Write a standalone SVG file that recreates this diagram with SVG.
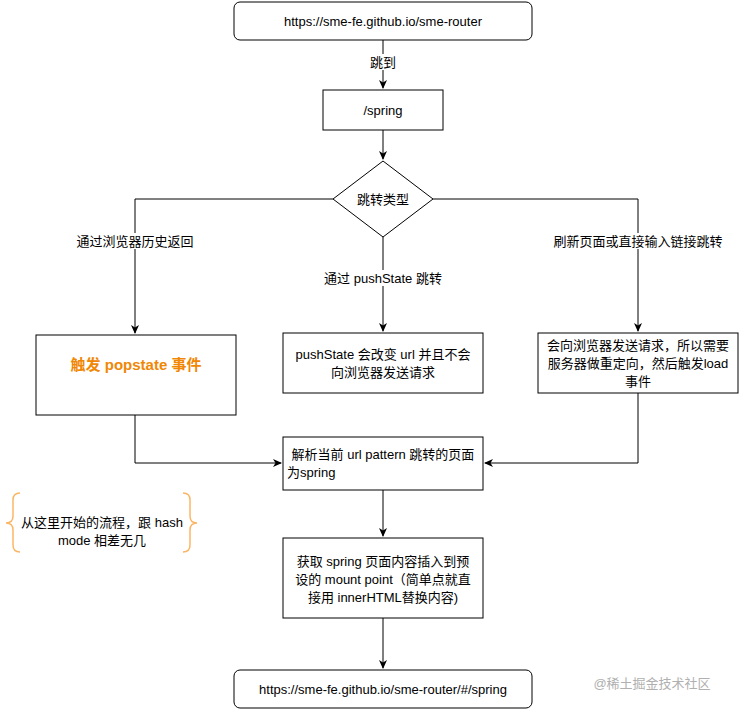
<svg xmlns="http://www.w3.org/2000/svg" width="739" height="711" viewBox="0 0 739 711">
<style>
.b{fill:#fff;stroke:#000;stroke-width:1}
.t{font-family:"Liberation Sans","Noto Sans CJK SC",sans-serif;font-size:13px;fill:#000;text-anchor:middle}
.e{fill:none;stroke:#000;stroke-width:1}
.lb{fill:#fff}
</style>
<defs><marker id="a" markerWidth="10" markerHeight="10" refX="8" refY="5" orient="auto" markerUnits="userSpaceOnUse"><path d="M0,1 L9,5 L0,9 L2.5,5 Z" fill="#000"/></marker></defs>
<rect width="739" height="711" fill="#fff"/>
<g id="edges">
<path class="e" d="M383,40 V88" marker-end="url(#a)"/>
<rect class="lb" x="368" y="54" width="30" height="16"/>
<text class="t" x="383" y="67">跳到</text>
<path class="e" d="M383,130 V159" marker-end="url(#a)"/>
<path class="e" d="M333,199 H135 V333" marker-end="url(#a)"/>
<rect class="lb" x="76" y="233" width="118" height="16"/>
<text class="t" x="135" y="246">通过浏览器历史返回</text>
<path class="e" d="M433,199 H638 V331" marker-end="url(#a)"/>
<rect class="lb" x="548" y="233" width="180" height="16"/>
<text class="t" x="638" y="246">刷新页面或直接输入链接跳转</text>
<path class="e" d="M383,237 V331" marker-end="url(#a)"/>
<rect class="lb" x="318" y="270" width="130" height="16"/>
<text class="t" x="383" y="283">通过 pushState 跳转</text>
<path class="e" d="M135,415 V463 H281" marker-end="url(#a)"/>
<path class="e" d="M638,393 V463 H485" marker-end="url(#a)"/>
<path class="e" d="M383,490 V536" marker-end="url(#a)"/>
<path class="e" d="M383,618 V668" marker-end="url(#a)"/>
</g>
<g id="n1"><rect class="b" x="234" y="2" width="298" height="38" rx="6"/><text class="t" x="383" y="26">https://sme-fe.github.io/sme-router</text></g>
<g id="n2"><rect class="b" x="323" y="90" width="120" height="40"/><text class="t" x="383" y="115">/spring</text></g>
<g id="n3"><path class="b" d="M383,161 L433,199 L383,237 L333,199 Z"/><text class="t" x="383" y="204">跳转类型</text></g>
<g id="n4"><rect class="b" x="36" y="335" width="200" height="80"/><text class="t" x="136" y="370" style="fill:#f08705;font-weight:bold;font-size:15px">触发 popstate 事件</text></g>
<g id="n5"><rect class="b" x="283" y="333" width="200" height="60"/><text class="t" x="383" y="359">pushState 会改变 url 并且不会</text><text class="t" x="383" y="377">向浏览器发送请求</text></g>
<g id="n6"><rect class="b" x="538" y="333" width="200" height="60"/><text class="t" x="638" y="350">会向浏览器发送请求，所以需要</text><text class="t" x="638" y="368">服务器做重定向，然后触发load</text><text class="t" x="638" y="386">事件</text></g>
<g id="n7"><rect class="b" x="283" y="437" width="200" height="53"/><text class="t" x="383" y="459">解析当前 url pattern 跳转的页面</text><text class="t" x="287" y="477" style="text-anchor:start">为spring</text></g>
<g id="n8"><rect class="b" x="283" y="538" width="200" height="80"/><text class="t" x="383" y="566">获取 spring 页面内容插入到预</text><text class="t" x="383" y="584">设的 mount point（简单点就直</text><text class="t" x="383" y="602">接用 innerHTML替换内容)</text></g>
<g id="n9"><rect class="b" x="234" y="670" width="298" height="38" rx="6"/><text class="t" x="383" y="694">https://sme-fe.github.io/sme-router/#/spring</text></g>
<g id="note">
<path d="M20,493 Q13,493 13,500 V516 Q13,523 6,523 Q13,523 13,530 V545 Q13,552 20,552" fill="none" stroke="#fbb665" stroke-width="1.5"/>
<path d="M183,493 Q190,493 190,500 V516 Q190,523 197,523 Q190,523 190,530 V545 Q190,552 183,552" fill="none" stroke="#fbb665" stroke-width="1.5"/>
<text class="t" x="102" y="527">从这里开始的流程，跟 hash</text>
<text class="t" x="102" y="545">mode 相差无几</text>
</g>
<text x="652" y="688" style="font-family:'Liberation Sans','Noto Sans CJK SC',sans-serif;font-size:13px;fill:#b0b0b0;text-anchor:middle">@稀土掘金技术社区</text>
</svg>
